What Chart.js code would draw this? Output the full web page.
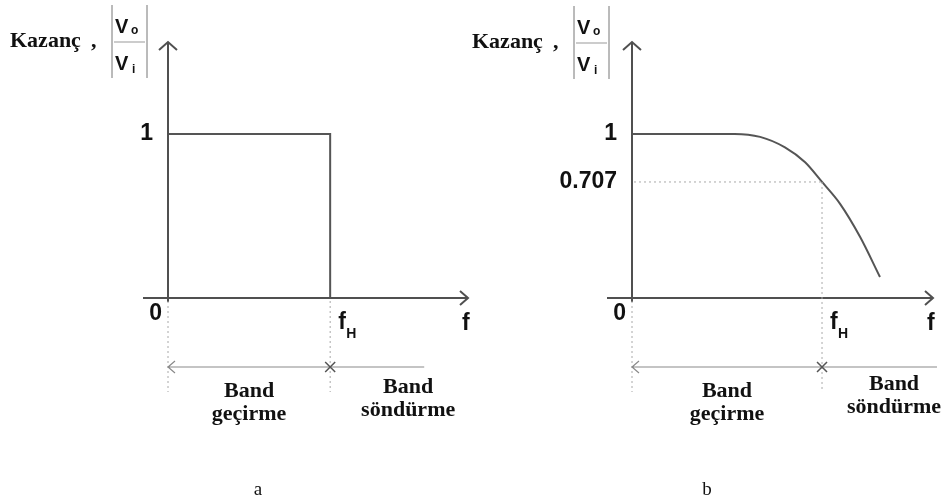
<!DOCTYPE html>
<html>
<head>
<meta charset="utf-8">
<script src="https://cdn.jsdelivr.net/npm/chart.js@4.4.1/dist/chart.umd.min.js"></script>
<style>
    html, body { margin: 0; padding: 0; background: #fff; }
    #wrap { position: relative; width: 950px; height: 503px; overflow: hidden; }
    #wrap canvas { position: absolute; left: 0; top: 0; }
</style>
</head>
<body>
<div id="wrap">
    <canvas id="chartA" width="950" height="503"></canvas>
    <canvas id="chartB" width="950" height="503"></canvas>
</div>
<script>
// (a) ideal low-pass response: gain 1 up to f_H, then straight down to 0
const idealFreq = [0, 1, 1];
const idealGain = [1, 1, 0];

const realFreq = [0, 0.54, 0.674, 0.805, 0.911, 1.0, 1.095, 1.2, 1.305];
const realGain = [1, 1, 0.982, 0.918, 0.827, 0.707, 0.574, 0.373, 0.128];

const cutoffFreq = 1;        // f_H
const halfPowerGain = 0.707; // -3 dB point
const gainTicksA = [1];
const gainTicksB = [1, 0.707];
const bandLabels = [['Band', 'geçirme'], ['Band', 'söndürme']];
const panelCaptions = ['a', 'b'];

const SERIF = '"Liberation Serif", "Times New Roman", serif';
const SANS = '"Liberation Sans", Arial, sans-serif';

function dotted(ctx, x1, y1, x2, y2) {
    ctx.save();
    ctx.strokeStyle = '#a8a8a8';
    ctx.lineWidth = 1;
    ctx.setLineDash([2, 3]);
    ctx.beginPath();
    ctx.moveTo(x1, y1);
    ctx.lineTo(x2, y2);
    ctx.stroke();
    ctx.restore();
}

// "Kazanç , |Vo/Vi|" heading
function drawGainTitle(ctx, left, base) {
    ctx.save();
    ctx.fillStyle = '#111';
    ctx.textAlign = 'left';
    ctx.textBaseline = 'alphabetic';
    ctx.font = 'bold 22px ' + SERIF;
    ctx.fillText('Kazanç', left, base);
    ctx.fillText(',', left + 81, base);

    ctx.strokeStyle = '#777';
    ctx.lineWidth = 1;
    ctx.beginPath();
    ctx.moveTo(left + 102, base - 42);
    ctx.lineTo(left + 102, base + 31);
    ctx.moveTo(left + 137, base - 42);
    ctx.lineTo(left + 137, base + 31);
    ctx.stroke();
    ctx.strokeStyle = '#999';
    ctx.beginPath();
    ctx.moveTo(left + 104, base - 5);
    ctx.lineTo(left + 135, base - 5);
    ctx.stroke();

    ctx.font = 'bold 20px ' + SANS;
    ctx.fillText('V', left + 105, base - 14);
    ctx.fillText('V', left + 105, base + 23);
    ctx.font = 'bold 12px ' + SANS;
    ctx.fillText('o', left + 121, base - 13);
    ctx.fillText('i', left + 122, base + 26);
    ctx.restore();
}

const sketchPlugin = {
    id: 'sketch',
    afterDraw(chart, args, opts) {
        const ctx = chart.ctx;
        const xs = chart.scales.x;
        const ys = chart.scales.y;
        const x0 = xs.getPixelForValue(0);
        const xc = xs.getPixelForValue(cutoffFreq);
        const xEnd = xs.right;
        const y0 = ys.getPixelForValue(0);
        const yTop = ys.top;

        ctx.save();
        // axes with open arrow heads
        ctx.strokeStyle = '#505050';
        ctx.lineWidth = 2;
        ctx.beginPath();
        ctx.moveTo(x0, y0 + 4);
        ctx.lineTo(x0, yTop);
        ctx.moveTo(x0 - 9, yTop + 8);
        ctx.lineTo(x0, yTop);
        ctx.lineTo(x0 + 9, yTop + 8);
        ctx.moveTo(x0 - 25, y0);
        ctx.lineTo(xEnd, y0);
        ctx.moveTo(xEnd - 8, y0 - 7);
        ctx.lineTo(xEnd, y0);
        ctx.lineTo(xEnd - 8, y0 + 7);
        ctx.stroke();

        // guide lines
        const bandY = y0 + 69;
        dotted(ctx, x0, y0 + 3, x0, y0 + 94);
        if (opts.halfPower) {
            const yh = ys.getPixelForValue(halfPowerGain);
            dotted(ctx, x0 + 2, yh, xc, yh);
            dotted(ctx, xc, yh, xc, y0 + 94);
        } else {
            dotted(ctx, xc, y0 + 3, xc, y0 + 94);
        }

        // band arrow: "<" at origin, "x" at f_H
        const bandEnd = xs.getPixelForValue(opts.bandEnd);
        ctx.strokeStyle = '#8a8a8a';
        ctx.lineWidth = 1.2;
        ctx.beginPath();
        ctx.moveTo(x0, bandY);
        ctx.lineTo(bandEnd, bandY);
        ctx.moveTo(x0 + 7, bandY - 6);
        ctx.lineTo(x0, bandY);
        ctx.lineTo(x0 + 7, bandY + 6);
        ctx.stroke();
        ctx.strokeStyle = '#555';
        ctx.lineWidth = 1.5;
        ctx.beginPath();
        ctx.moveTo(xc - 5, bandY - 5);
        ctx.lineTo(xc + 5, bandY + 5);
        ctx.moveTo(xc + 5, bandY - 5);
        ctx.lineTo(xc - 5, bandY + 5);
        ctx.stroke();

        // tick labels
        ctx.fillStyle = '#111';
        ctx.font = 'bold 23px ' + SANS;
        ctx.textAlign = 'right';
        ctx.textBaseline = 'middle';
        opts.ticks.forEach(v => {
            ctx.fillText(String(v), x0 - 15, ys.getPixelForValue(v));
        });
        ctx.fillText('0', x0 - 6, y0 + 16);

        ctx.textAlign = 'left';
        ctx.textBaseline = 'alphabetic';
        ctx.fillText('f', xc + 8, y0 + 31);
        ctx.fillText('f', xEnd - 6, y0 + 32);
        ctx.font = 'bold 14px ' + SANS;
        ctx.fillText('H', xc + 16, y0 + 40);

        // band names
        ctx.font = 'bold 22px ' + SERIF;
        ctx.textAlign = 'center';
        const passX = (x0 + xc) / 2;
        const stopX = xc + opts.stopOffset;
        ctx.fillText(bandLabels[0][0], passX, y0 + 99);
        ctx.fillText(bandLabels[0][1], passX, y0 + 122);
        ctx.fillText(bandLabels[1][0], stopX, y0 + opts.stopTop);
        ctx.fillText(bandLabels[1][1], stopX, y0 + opts.stopTop + 23);

        // panel caption
        ctx.font = '19px ' + SERIF;
        ctx.fillText(opts.caption, opts.captionX, 495);

        drawGainTitle(ctx, opts.titleLeft, opts.titleBase);
        ctx.restore();
    }
};

function makeChart(id, freq, gain, pad, xMax, sketch, tension) {
    const points = freq.map((f, i) => ({ x: f, y: gain[i] }));
    return new Chart(document.getElementById(id), {
        type: 'line',
        data: {
            datasets: [{
                data: points,
                borderColor: '#555',
                borderWidth: 2,
                pointRadius: 0,
                fill: false,
                clip: false,
                tension: tension,
                cubicInterpolationMode: tension ? 'monotone' : 'default'
            }]
        },
        options: {
            responsive: false,
            animation: false,
            layout: { padding: pad },
            plugins: {
                legend: { display: false },
                tooltip: { enabled: false },
                sketch: sketch
            },
            scales: {
                x: { type: 'linear', display: false, min: 0, max: xMax },
                y: { type: 'linear', display: false, min: 0, max: 1.56 }
            }
        },
        plugins: [sketchPlugin]
    });
}

makeChart('chartA', idealFreq, idealGain,
    { left: 168, right: 482, top: 42, bottom: 205 }, 1.85,
    { ticks: gainTicksA, halfPower: false, bandEnd: 1.58, stopOffset: 78, stopTop: 95,
      caption: panelCaptions[0], captionX: 258, titleLeft: 10, titleBase: 47 }, 0);

makeChart('chartB', realFreq, realGain,
    { left: 632, right: 17, top: 42, bottom: 205 }, 1.584,
    { ticks: gainTicksB, halfPower: true, bandEnd: 1.605, stopOffset: 72, stopTop: 92,
      caption: panelCaptions[1], captionX: 707, titleLeft: 472, titleBase: 48 }, 0.4);
</script>
</body>
</html>
